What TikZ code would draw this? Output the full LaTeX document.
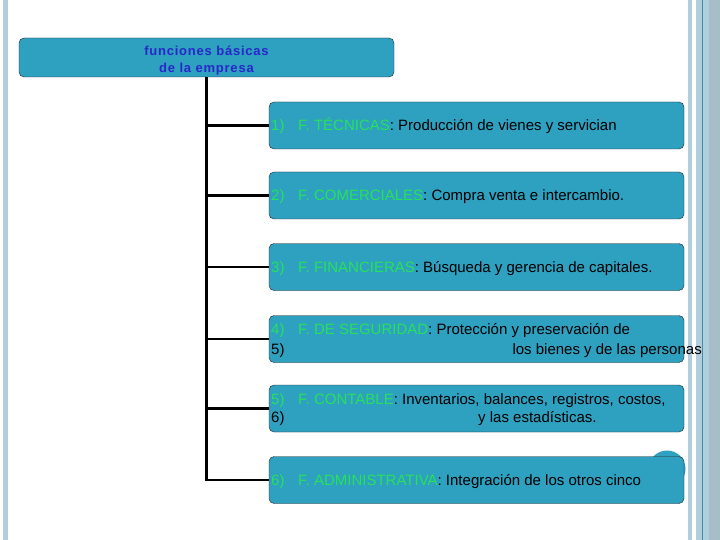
\documentclass[tikz,border=0pt]{standalone}
\usepackage{fontspec}
\setmainfont{Liberation Sans}

\definecolor{boxteal}{RGB}{46,160,192}
\definecolor{titleblue}{RGB}{40,40,200}
\definecolor{fgreen}{RGB}{40,225,90}
\definecolor{sidebar}{RGB}{176,206,220}
\definecolor{sidedark}{RGB}{70,140,170}

\tikzset{
	fbox/.style={draw=black!85, fill=boxteal, rounded corners=5pt, minimum width=415pt, minimum height=47pt, inner sep=0pt},
	ftext/.style={anchor=base west, inner sep=0pt, font=\fontsize{15}{18}\selectfont},
	conn/.style={line width=2.8pt, black},
}

\begin{document}
\begin{tikzpicture}[x=1pt, y=-1pt]
		\useasboundingbox[fill=white] (0,0) rectangle (720,540);

		% side bands
		\fill[sidebar] (3,0) rectangle (8,540);
		\fill[sidebar] (688,0) rectangle (692,540);
		\fill[sidebar] (696,0) rectangle (720,540);
		\fill[sidebar!80!gray] (709,0) rectangle (720,540);
		\draw[sidedark, line width=1pt] (702,0) -- (702,540);

		\node[draw=none, fill=boxteal, circle, minimum size=37pt] (deco) at (667,469) {};

		\node[fbox, minimum width=375pt, minimum height=39pt] (title) at (206.5,57.5) {};
		\node[align=center, text=titleblue, inner sep=0pt, font=\fontsize{13}{17}\selectfont\bfseries\addfontfeature{LetterSpace=6}] (titletext) at (206.5,61) {funciones básicas\\ de la empresa};

		\node[fbox] (b1) at (476.5,125.5) {};
		\node[fbox] (b2) at (476.5,195.5) {};
		\node[fbox] (b3) at (476.5,267) {};
		\node[fbox] (b4) at (476.5,339) {};
		\node[fbox] (b5) at (476.5,408.5) {};
		\node[fbox] (b6) at (476.5,480) {};

		\draw[conn] (title.south) |- (b1.west);
		\draw[conn] (title.south) |- (b2.west);
		\draw[conn] (title.south) |- (b3.west);
		\draw[conn] (title.south) |- (b4.west);
		\draw[conn] (title.south) |- (b5.west);
		\draw[conn] (title.south) |- (b6.west);

		\node[ftext, text=fgreen] (n1) at (271,131) {1)};
		\node[ftext] (t1) at (298,131) {\textcolor{fgreen}{F. TÉCNICAS}: Producción de vienes y servician};
		\node[ftext, text=fgreen] (n2) at (271,201) {2)};
		\node[ftext] (t2) at (298,201) {\textcolor{fgreen}{F. COMERCIALES}: Compra venta e intercambio.};
		\node[ftext, text=fgreen] (n3) at (271,272.5) {3)};
		\node[ftext] (t3) at (298,272.5) {\textcolor{fgreen}{F. FINANCIERAS}: Búsqueda y gerencia de capitales.};
		\node[ftext, text=fgreen] (n4) at (271,334) {4)};
		\node[ftext] (t4) at (298,334) {\textcolor{fgreen}{F. DE SEGURIDAD}: Protección y preservación de};
		\node[ftext] (m4) at (271,354) {5)};
		\node[ftext, anchor=base east] (r4) at (702,354) {los bienes y de las personas};
		\node[ftext, text=fgreen] (n5) at (271,404) {5)};
		\node[ftext] (t5) at (298,404) {\textcolor{fgreen}{F. CONTABLE}: Inventarios, balances, registros, costos,};
		\node[ftext] (m5) at (271,422) {6)};
		\node[ftext] (r5) at (478,422) {y las estadísticas.};
		\node[ftext, text=fgreen] (n6) at (271,485.5) {6)};
		\node[ftext] (t6) at (298,485.5) {\textcolor{fgreen}{F. ADMINISTRATIVA}: Integración de los otros cinco};
	\end{tikzpicture}
\end{document}
